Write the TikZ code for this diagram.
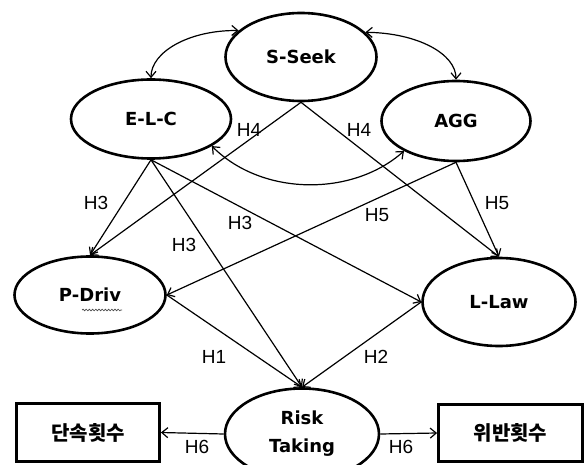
\documentclass[tikz,border=0pt]{standalone}
\usepackage{fontspec}
\setmainfont{Liberation Sans}
\newfontfamily\nodefont{DejaVu Sans}
\newfontfamily\krfont{Noto Sans CJK KR}
\usetikzlibrary{shapes.geometric,arrows.meta,decorations.pathmorphing}
\tikzset{
  lat/.style={ellipse, draw, line width=2.6pt, inner sep=0pt, align=center,
    font=\nodefont\bfseries\fontsize{18}{28}\selectfont},
  obs/.style={rectangle, draw, line width=2.8pt, inner sep=0pt,
    font=\krfont\bfseries\fontsize{20}{20}\selectfont},
  hlab/.style={inner sep=0pt, font=\fontsize{19}{19}\selectfont},
  conn/.style={line width=1.2pt, -{Straight Barb[length=6pt,width=10pt,line width=1.2pt]}},
  dconn/.style={line width=1.2pt, {Straight Barb[length=6pt,width=10pt,line width=1.2pt]}-{Straight Barb[length=6pt,width=10pt,line width=1.2pt]}}
}
\begin{document}
\begin{tikzpicture}[x=1pt,y=-1pt]
\useasboundingbox[fill=white] (0,0) rectangle (586,465);

% latent variables
\node[lat, minimum width=151pt, minimum height=88pt] (sseek) at (301,57) {S-Seek};
\node[lat, minimum width=160pt, minimum height=79pt] (elc) at (151,119) {E-L-C};
\node[lat, minimum width=149pt, minimum height=80pt] (agg) at (456,121) {AGG};
\node[lat, minimum width=151pt, minimum height=77pt] (pdriv) at (90,295) {P-Driv};
\node[lat, minimum width=153pt, minimum height=88pt] (llaw) at (499,302) {L-Law};
\node[lat, minimum width=154pt, minimum height=91pt] (risk) at (302,434) {Risk\\Taking};

% observed variables
\node[obs, minimum width=143pt, minimum height=58pt] (dan) at (88,432.5) {단속횟수};
\node[obs, minimum width=144pt, minimum height=57pt] (wi) at (510.5,433) {위반횟수};

% squiggle under Driv
\draw[line width=0.7pt, black!70, decorate, decoration={snake, segment length=3.2pt, amplitude=0.8pt}]
  (82,310) -- (122,310);

% correlations
\draw[dconn] (sseek.157) .. controls (189,30) and (151,52) .. (elc.north);
\draw[dconn] (sseek.21) .. controls (418,33) and (456,54) .. (agg.north);
\draw[dconn] (elc.-24) .. controls (262,196) and (352,197) .. (agg.-150);

% paths
\draw[conn] (sseek.south) -- (pdriv.north);
\draw[conn] (sseek.south) -- (llaw.north);
\draw[conn] (elc.south) -- (pdriv.north);
\draw[conn] (elc.south) -- (risk.north);
\draw[conn] (elc.south) -- (llaw.west);
\draw[conn] (agg.south) -- (pdriv.east);
\draw[conn] (agg.south) -- (llaw.north);
\draw[conn] (pdriv.east) -- (risk.north);
\draw[conn] (llaw.west) -- (risk.north);
\draw[conn] (risk.west) -- (dan.east);
\draw[conn] (risk.east) -- (wi.west);

% labels
\node[hlab] (h4a) at (249,130) {H4};
\node[hlab] (h4b) at (359,130) {H4};
\node[hlab] (h3a) at (96,203) {H3};
\node[hlab] (h3b) at (240,223) {H3};
\node[hlab] (h3c) at (184,245) {H3};
\node[hlab] (h5a) at (377,215) {H5};
\node[hlab] (h5b) at (497,203) {H5};
\node[hlab] (h1) at (214,357) {H1};
\node[hlab] (h2) at (376,357) {H2};
\node[hlab] (h6a) at (197,447) {H6};
\node[hlab] (h6b) at (401,447) {H6};
\end{tikzpicture}
\end{document}
